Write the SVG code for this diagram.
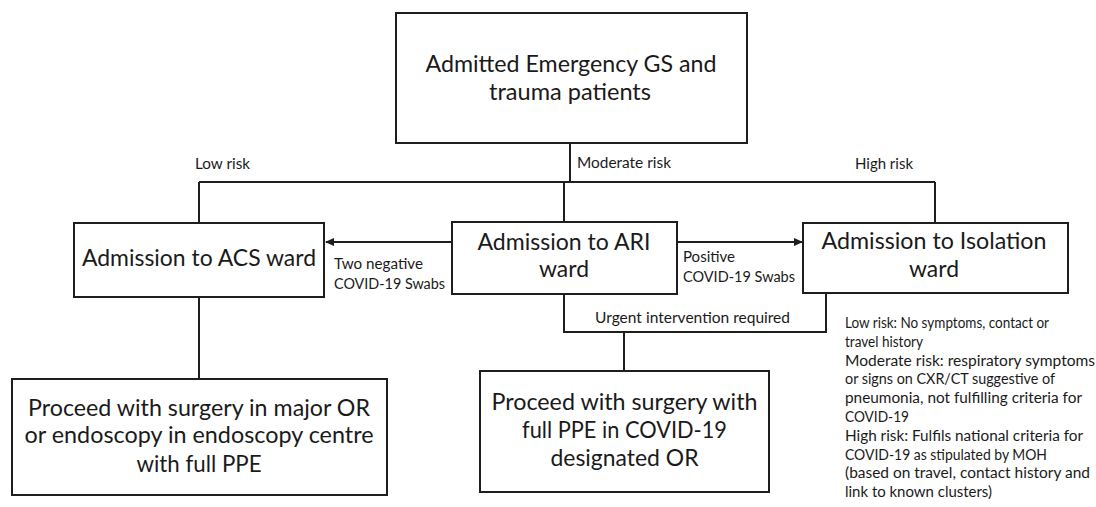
<svg xmlns="http://www.w3.org/2000/svg" width="1096" height="507" viewBox="0 0 1096 507">
<style>
.box{fill:#fff;stroke:#1e1e1e;stroke-width:2}
.ln{fill:none;stroke:#1e1e1e;stroke-width:2}
.t{font-family:Lato,"Open Sans","Liberation Sans",sans-serif;font-size:23px;fill:#1a1a1a}
.m{text-anchor:middle}
.s{font-family:Lato,"Open Sans","Liberation Sans",sans-serif;font-size:15.5px;fill:#1a1a1a}
</style>
<defs>
<marker id="ah" markerWidth="10" markerHeight="10" refX="8" refY="5" orient="auto" markerUnits="userSpaceOnUse">
<path d="M0,1 L9,5 L0,9 Z" fill="#1e1e1e"/>
</marker>
</defs>
<rect width="1096" height="507" fill="#fff"/>
<g id="connectors">
<path class="ln" d="M570,143 V182"/>
<path class="ln" d="M199,182 H935"/>
<path class="ln" d="M199,182 V223"/>
<path class="ln" d="M564,182 V222"/>
<path class="ln" d="M935,182 V223"/>
<path class="ln" d="M452,242 H326" marker-end="url(#ah)"/>
<path class="ln" d="M677,242 H802" marker-end="url(#ah)"/>
<path class="ln" d="M564,294 V332 H826 V293"/>
<path class="ln" d="M624,332 V371"/>
<path class="ln" d="M199,297 V379"/>
<text class="s" x="195" y="169" textLength="55" lengthAdjust="spacingAndGlyphs">Low risk</text>
<text class="s" x="577" y="168" textLength="94" lengthAdjust="spacingAndGlyphs">Moderate risk</text>
<text class="s" x="855" y="169" textLength="58" lengthAdjust="spacingAndGlyphs">High risk</text>
<text class="s" x="334" y="269" textLength="89" lengthAdjust="spacingAndGlyphs">Two negative</text>
<text class="s" x="334" y="289" textLength="111" lengthAdjust="spacingAndGlyphs">COVID-19 Swabs</text>
<text class="s" x="683" y="262" textLength="52" lengthAdjust="spacingAndGlyphs">Positive</text>
<text class="s" x="683" y="282" textLength="112" lengthAdjust="spacingAndGlyphs">COVID-19 Swabs</text>
<text class="s" x="595" y="323" textLength="195" lengthAdjust="spacingAndGlyphs">Urgent intervention required</text>
</g>
<g id="n-top">
<rect class="box" x="396" y="13" width="351" height="130"/>
<text class="t m" x="571" y="72" textLength="291" lengthAdjust="spacingAndGlyphs">Admitted Emergency GS and</text>
<text class="t m" x="570" y="100" textLength="162" lengthAdjust="spacingAndGlyphs">trauma patients</text>
</g>
<g id="n-acs">
<rect class="box" x="74" y="223" width="250" height="74"/>
<text class="t m" x="199" y="266" textLength="234" lengthAdjust="spacingAndGlyphs">Admission to ACS ward</text>
</g>
<g id="n-ari">
<rect class="box" x="452" y="222" width="225" height="72"/>
<text class="t m" x="564" y="250" textLength="173" lengthAdjust="spacingAndGlyphs">Admission to ARI</text>
<text class="t m" x="564" y="277" textLength="50" lengthAdjust="spacingAndGlyphs">ward</text>
</g>
<g id="n-iso">
<rect class="box" x="803" y="223" width="265" height="70"/>
<text class="t m" x="934" y="249" textLength="225" lengthAdjust="spacingAndGlyphs">Admission to Isolation</text>
<text class="t m" x="934" y="277" textLength="50" lengthAdjust="spacingAndGlyphs">ward</text>
</g>
<g id="n-major">
<rect class="box" x="12" y="379" width="375" height="116"/>
<text class="t m" x="199" y="416" textLength="342" lengthAdjust="spacingAndGlyphs">Proceed with surgery in major OR</text>
<text class="t m" x="199" y="443" textLength="349" lengthAdjust="spacingAndGlyphs">or endoscopy in endoscopy centre</text>
<text class="t m" x="199" y="472" textLength="125" lengthAdjust="spacingAndGlyphs">with full PPE</text>
</g>
<g id="n-covid-or">
<rect class="box" x="480" y="371" width="289" height="121"/>
<text class="t m" x="624.5" y="410" textLength="266" lengthAdjust="spacingAndGlyphs">Proceed with surgery with</text>
<text class="t m" x="624.5" y="438" textLength="205" lengthAdjust="spacingAndGlyphs">full PPE in COVID-19</text>
<text class="t m" x="624.5" y="466" textLength="148" lengthAdjust="spacingAndGlyphs">designated OR</text>
</g>
<g id="legend">
<text class="s" x="845" y="328" textLength="204" lengthAdjust="spacingAndGlyphs">Low risk: No symptoms, contact or</text>
<text class="s" x="845" y="346.8" textLength="78" lengthAdjust="spacingAndGlyphs">travel history</text>
<text class="s" x="845" y="365.6" textLength="250" lengthAdjust="spacingAndGlyphs">Moderate risk: respiratory symptoms</text>
<text class="s" x="845" y="384.4" textLength="210" lengthAdjust="spacingAndGlyphs">or signs on CXR/CT suggestive of</text>
<text class="s" x="845" y="403.2" textLength="237" lengthAdjust="spacingAndGlyphs">pneumonia, not fulfilling criteria for</text>
<text class="s" x="845" y="422" textLength="64" lengthAdjust="spacingAndGlyphs">COVID-19</text>
<text class="s" x="845" y="440.8" textLength="238" lengthAdjust="spacingAndGlyphs">High risk: Fulfils national criteria for</text>
<text class="s" x="845" y="459.6" textLength="202" lengthAdjust="spacingAndGlyphs">COVID-19 as stipulated by MOH</text>
<text class="s" x="845" y="478.4" textLength="245" lengthAdjust="spacingAndGlyphs">(based on travel, contact history and</text>
<text class="s" x="845" y="497.2" textLength="147" lengthAdjust="spacingAndGlyphs">link to known clusters)</text>
</g>
</svg>
